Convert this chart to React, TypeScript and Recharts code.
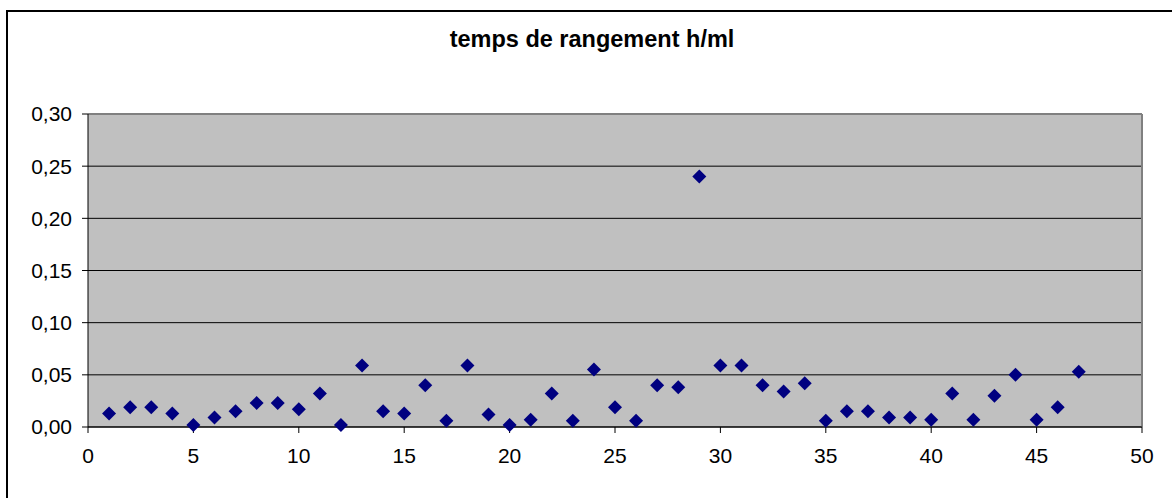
import React from "react";
import {
  ScatterChart, Scatter, XAxis, YAxis, CartesianGrid, ReferenceLine,
} from "recharts";

const TITLE = "temps de rangement h/ml";

// sample number (x) and time per metre (y)
const SAMPLES = [
  1, 2, 3, 4, 5, 6, 7, 8, 9, 10, 11, 12, 13, 14, 15, 16, 17, 18, 19, 20, 21, 22, 23, 24,
  25, 26, 27, 28, 29, 30, 31, 32, 33, 34, 35, 36, 37, 38, 39, 40, 41, 42, 43, 44, 45, 46, 47,
];
const TIMES = [
  0.013, 0.019, 0.019, 0.013, 0.002, 0.009, 0.015, 0.023, 0.023, 0.017, 0.032, 0.002,
  0.059, 0.015, 0.013, 0.040, 0.006, 0.059, 0.012, 0.002, 0.007, 0.032, 0.006, 0.055,
  0.019, 0.006, 0.040, 0.038, 0.240, 0.059, 0.059, 0.040, 0.034, 0.042, 0.006, 0.015,
  0.015, 0.009, 0.009, 0.007, 0.032, 0.007, 0.030, 0.050, 0.007, 0.019, 0.053,
];
const X_TICKS = [0, 5, 10, 15, 20, 25, 30, 35, 40, 45, 50];
const Y_TICKS = [0, 0.05, 0.1, 0.15, 0.2, 0.25, 0.3];

const FONT = "'Liberation Sans', Arial, sans-serif";
const TICK_STYLE = { fill: "#000", fontSize: 21, fontFamily: FONT };

const fmtY = (v: number) => v.toFixed(2).replace(".", ",");

const Diamond = (props: any) => {
  const { cx, cy } = props;
  const r = 7;
  return (
    <polygon
      points={`${cx},${cy - r} ${cx + r},${cy} ${cx},${cy + r} ${cx - r},${cy}`}
      fill="#000080"
    />
  );
};

export default function App() {
  const data = SAMPLES.map((x, i) => ({ x, y: TIMES[i] }));
  return (
    <div style={{ position: "absolute", left: 0, top: 0, width: 1172, height: 498, overflow: "hidden", background: "#fff" }}>
      <div
        style={{
          position: "absolute", left: 6, top: 10, width: 1200, height: 520,
          border: "2px solid #000", boxSizing: "border-box",
        }}
      />
      <div
        style={{
          position: "absolute", left: 0, top: 28, width: 1184, textAlign: "center",
          fontFamily: FONT, fontWeight: "bold", fontSize: 23.5, lineHeight: "23px", color: "#000",
        }}
      >
        {TITLE}
      </div>
      <div style={{ position: "absolute", left: 0, top: 0 }}>
        <ScatterChart width={1172} height={498} margin={{ top: 114, right: 30, bottom: 31, left: 8 }}>
          <CartesianGrid fill="#c0c0c0" stroke="#000" vertical={false} />
          <XAxis
            type="number"
            dataKey="x"
            domain={[0, 50]}
            ticks={X_TICKS}
            interval={0}
            height={40}
            tick={TICK_STYLE}
            tickSize={6}
            tickMargin={15}
            axisLine={{ stroke: "#000" }}
            tickLine={{ stroke: "#000" }}
          />
          <YAxis
            type="number"
            dataKey="y"
            domain={[0, 0.3]}
            ticks={Y_TICKS}
            interval={0}
            width={80}
            tick={TICK_STYLE}
            tickFormatter={fmtY}
            tickSize={6}
            tickMargin={10}
            axisLine={{ stroke: "#000" }}
            tickLine={{ stroke: "#000" }}
          />
          <ReferenceLine y={0.3} stroke="#808080" strokeWidth={2} />
          <ReferenceLine x={50} stroke="#808080" strokeWidth={2} />
          <Scatter data={data} shape={<Diamond />} isAnimationActive={false} />
        </ScatterChart>
      </div>
    </div>
  );
}
